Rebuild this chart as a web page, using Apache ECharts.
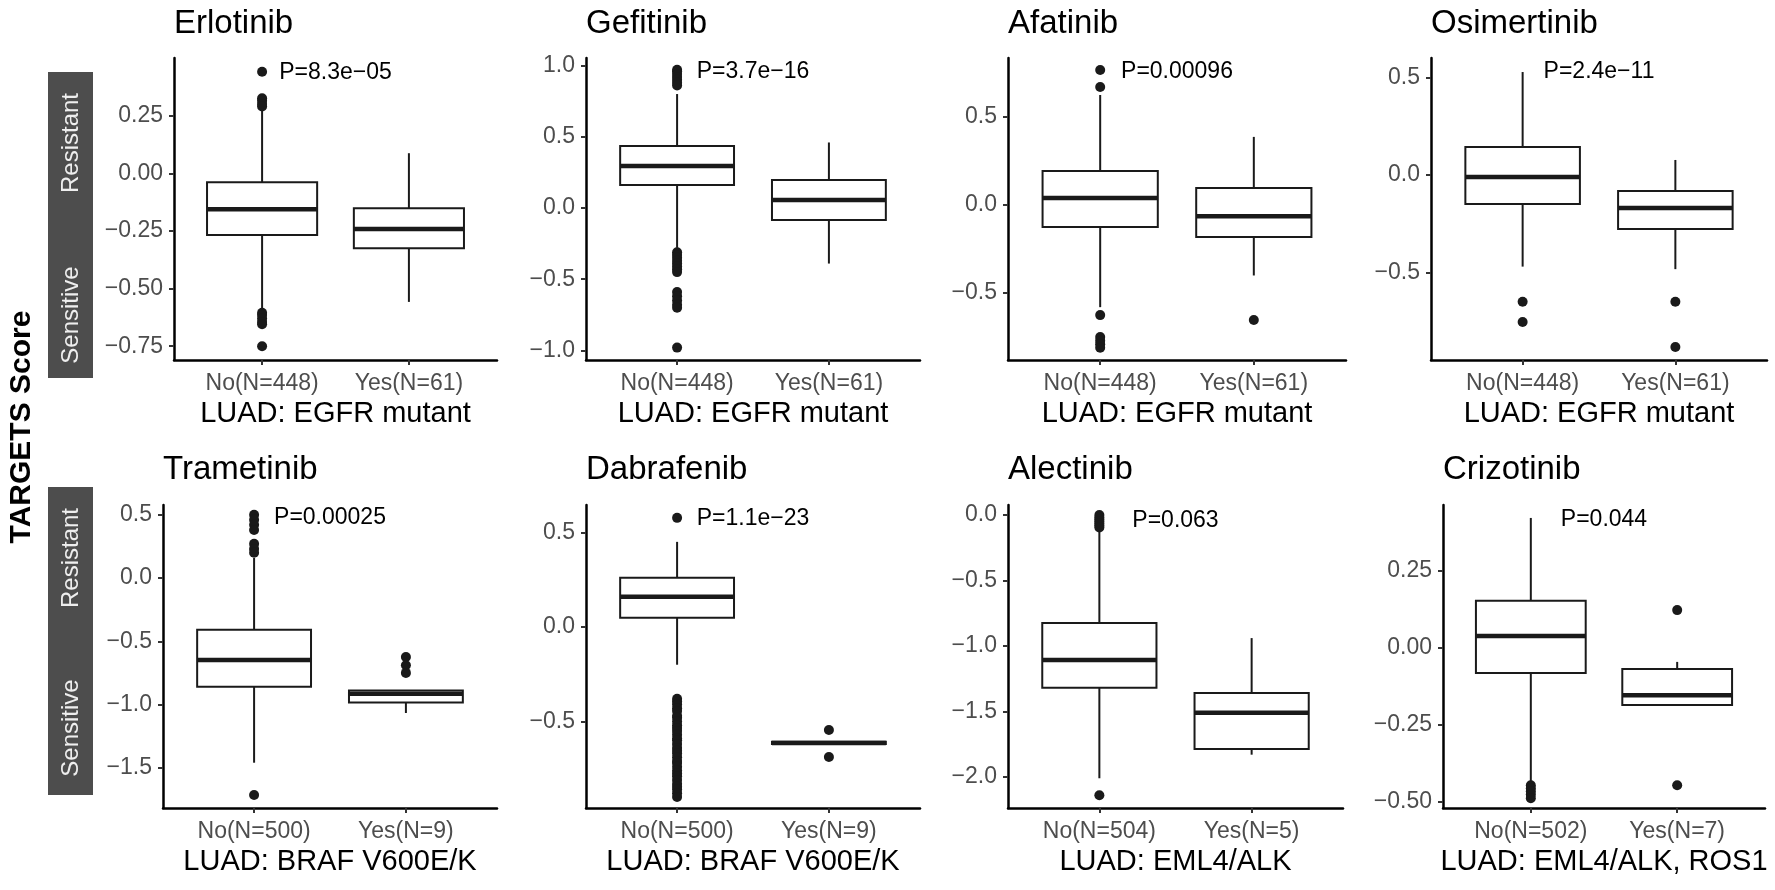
<!DOCTYPE html>
<html>
<head>
<meta charset="utf-8">
<title>TARGETS Score</title>
<script src="https://cdn.jsdelivr.net/npm/echarts@6.0.0/dist/echarts.min.js"></script>
<style>
  html, body { margin: 0; padding: 0; background: #fff; }
  #targets_chart { width: 1775px; height: 890px; }
</style>
</head>
<body>
<div id="targets_chart"></div>
<script>
  // panel order: top row left->right, then bottom row
  const drugs = ['Erlotinib', 'Gefitinib', 'Afatinib', 'Osimertinib',
    'Trametinib', 'Dabrafenib', 'Alectinib', 'Crizotinib'];
  const xTitles = ['LUAD: EGFR mutant', 'LUAD: EGFR mutant', 'LUAD: EGFR mutant', 'LUAD: EGFR mutant',
    'LUAD: BRAF V600E/K', 'LUAD: BRAF V600E/K', 'LUAD: EML4/ALK', 'LUAD: EML4/ALK, ROS1'];
  const groupLabels = [
    ['No(N=448)', 'Yes(N=61)'], ['No(N=448)', 'Yes(N=61)'], ['No(N=448)', 'Yes(N=61)'], ['No(N=448)', 'Yes(N=61)'],
    ['No(N=500)', 'Yes(N=9)'], ['No(N=500)', 'Yes(N=9)'], ['No(N=504)', 'Yes(N=5)'], ['No(N=502)', 'Yes(N=7)']
  ];
  const pLabels = ['P=8.3e\u221205', 'P=3.7e\u221216', 'P=0.00096', 'P=2.4e\u221211',
    'P=0.00025', 'P=1.1e\u221223', 'P=0.063', 'P=0.044'];
  const pLabelY = [0.437, 0.954, 0.756, 0.528, 0.48, 0.571, -0.04, 0.416];

  // [lower whisker, Q1, median, Q3, upper whisker]
  const boxNo = [
    [-0.59, -0.268, -0.156, -0.039, 0.27],
    [-0.28, 0.161, 0.295, 0.435, 0.80],
    [-0.58, -0.125, 0.04, 0.193, 0.625],
    [-0.47, -0.149, -0.01, 0.144, 0.528],
    [-1.46, -0.86, -0.648, -0.41, 0.158],
    [-0.20, 0.048, 0.159, 0.26, 0.45],
    [-2.01, -1.32, -1.107, -0.824, -0.115],
    [-0.435, -0.081, 0.039, 0.153, 0.422]
  ];
  const boxYes = [
    [-0.558, -0.325, -0.242, -0.152, 0.087],
    [-0.39, -0.084, 0.056, 0.196, 0.46],
    [-0.40, -0.182, -0.063, 0.097, 0.387],
    [-0.483, -0.277, -0.169, -0.082, 0.077],
    [-1.067, -0.985, -0.915, -0.89, -0.89],
    [-0.62, -0.62, -0.614, -0.608, -0.608],
    [-1.83, -1.786, -1.51, -1.36, -0.94],
    [-0.185, -0.185, -0.153, -0.068, -0.045]
  ];
  const outliersNo = [
    [0.44, 0.325, 0.315, 0.30, 0.29, -0.605, -0.615, -0.63, -0.645, -0.655, -0.75],
    [0.97, 0.96, 0.94, 0.92, 0.90, 0.88, 0.86, -0.31, -0.33, -0.35, -0.37, -0.39, -0.41, -0.43, -0.45,
      -0.59, -0.62, -0.65, -0.68, -0.70, -0.98],
    [0.767, 0.67, -0.625, -0.75, -0.77, -0.79, -0.81],
    [-0.65, -0.754],
    [0.50, 0.46, 0.42, 0.38, 0.27, 0.23, 0.20, -1.715],
    [0.577, -0.38, -0.395, -0.41, -0.43, -0.445, -0.47, -0.48, -0.50, -0.52, -0.535, -0.55, -0.57, -0.59,
      -0.60, -0.62, -0.64, -0.655, -0.67, -0.69, -0.71, -0.72, -0.74, -0.76, -0.775, -0.79, -0.81, -0.83,
      -0.845, -0.86, -0.88, -0.90],
    [0.0, -0.02, -0.035, -0.05, -0.065, -0.08, -0.095, -2.14],
    [-0.445, -0.455, -0.465, -0.475, -0.487]
  ];
  const outliersYes = [
    [],
    [],
    [-0.653],
    [-0.65, -0.882],
    [-0.625, -0.69, -0.75],
    [-0.545, -0.688],
    [],
    [0.123, -0.445]
  ];
  const yTicks = [
    [-0.75, -0.5, -0.25, 0, 0.25],
    [-1, -0.5, 0, 0.5, 1],
    [-0.5, 0, 0.5],
    [-0.5, 0, 0.5],
    [-1.5, -1, -0.5, 0, 0.5],
    [-0.5, 0, 0.5],
    [-2, -1.5, -1, -0.5, 0],
    [-0.5, -0.25, 0, 0.25]
  ];
  const yDigits = [2, 1, 1, 1, 1, 1, 1, 2];
  const yMin = [-0.81, -1.067, -0.88, -0.949, -1.818, -0.958, -2.237, -0.519];
  const yMax = [0.50, 1.053, 0.835, 0.60, 0.577, 0.645, 0.076, 0.464];

  // layout (pixels)
  const panelLeft = [174, 586, 1008, 1431, 163, 586, 1008, 1443];
  const panelWidth = [323, 334, 338, 336, 334, 334, 335, 322];
  const rowTop = [58, 505];
  const rowHeight = [302, 303];
  const titleTop = [7, 453];
  const font = 'Liberation Sans';
  const ink = '#1a1a1a';

  function fmtTick(v, d) {
    return v.toFixed(d).replace('-', '\u2212');
  }

  function renderBox(params, api) {
    const x = api.value(0);
    const pLo = api.coord([x, api.value(1)]);
    const pQ1 = api.coord([x, api.value(2)]);
    const pMed = api.coord([x, api.value(3)]);
    const pQ3 = api.coord([x, api.value(4)]);
    const pHi = api.coord([x, api.value(5)]);
    const left = api.coord([x - 0.375, 0])[0];
    const right = api.coord([x + 0.375, 0])[0];
    const line = {stroke: ink, lineWidth: 2};
    return {
      type: 'group',
      children: [
        {type: 'line', shape: {x1: pHi[0], y1: pHi[1], x2: pQ3[0], y2: pQ3[1]}, style: line},
        {type: 'line', shape: {x1: pQ1[0], y1: pQ1[1], x2: pLo[0], y2: pLo[1]}, style: line},
        {type: 'rect', shape: {x: left, y: pQ3[1], width: right - left, height: pQ1[1] - pQ3[1]},
          style: {fill: '#fff', stroke: ink, lineWidth: 2}},
        {type: 'line', shape: {x1: left, y1: pMed[1], x2: right, y2: pMed[1]},
          style: {stroke: ink, lineWidth: 4.5}}
      ]
    };
  }

  const grid = [], xAxis = [], yAxis = [], series = [], title = [];

  drugs.forEach(function (drug, i) {
    const row = i < 4 ? 0 : 1;
    grid.push({left: panelLeft[i], top: rowTop[row], width: panelWidth[i], height: rowHeight[row]});
    title.push({
      text: drug, left: panelLeft[i], top: titleTop[row], padding: 0,
      textStyle: {fontFamily: font, fontSize: 33, fontWeight: 'normal', color: '#000'}
    });
    xAxis.push({
      type: 'value', gridIndex: i, min: 0.4, max: 2.6,
      name: xTitles[i], nameLocation: 'middle', nameGap: 39,
      nameTextStyle: {fontFamily: font, fontSize: 29, color: '#000'},
      splitLine: {show: false},
      axisLine: {onZero: false, lineStyle: {color: '#000', width: 2.5}},
      axisTick: {customValues: [1, 2], length: 5, lineStyle: {color: '#333', width: 2}},
      axisLabel: {
        customValues: [1, 2], margin: 12,
        fontFamily: font, fontSize: 23, color: '#4d4d4d',
        formatter: function (v) { return groupLabels[i][Math.round(v) - 1]; }
      }
    });
    yAxis.push({
      type: 'value', gridIndex: i, min: yMin[i], max: yMax[i],
      splitLine: {show: false},
      axisLine: {show: true, onZero: false, lineStyle: {color: '#000', width: 2.5}},
      axisTick: {show: true, customValues: yTicks[i], length: 5, lineStyle: {color: '#333', width: 2}},
      axisLabel: {
        customValues: yTicks[i], margin: 11,
        fontFamily: font, fontSize: 23, color: '#4d4d4d',
        formatter: function (v) { return fmtTick(v, yDigits[i]); }
      }
    });
    series.push({
      type: 'custom', name: drug, xAxisIndex: i, yAxisIndex: i,
      renderItem: renderBox,
      encode: {x: 0, y: [1, 2, 3, 4, 5]},
      data: [[1].concat(boxNo[i]), [2].concat(boxYes[i])],
      silent: true, z: 2
    });
    series.push({
      type: 'scatter', xAxisIndex: i, yAxisIndex: i,
      symbolSize: 10, itemStyle: {color: ink, opacity: 1},
      data: outliersNo[i].map(function (v) { return [1, v]; })
        .concat(outliersYes[i].map(function (v) { return [2, v]; })),
      silent: true, z: 3
    });
    series.push({
      type: 'custom', xAxisIndex: i, yAxisIndex: i,
      renderItem: function (params, api) {
        const p = api.coord([api.value(0), api.value(1)]);
        return {
          type: 'text', x: p[0], y: p[1],
          style: {text: pLabels[i], fill: '#000', fontFamily: font, fontSize: 23,
            align: 'center', verticalAlign: 'middle'}
        };
      },
      data: [[1.5, pLabelY[i]]],
      silent: true, z: 4
    });
  });

  // side strips and the shared y title
  const strip = {fill: '#4d4d4d'};
  const stripText = {fill: '#eeeeee', fontFamily: font, fontSize: 24, align: 'center', verticalAlign: 'middle'};
  const graphic = [
    {type: 'rect', shape: {x: 48, y: 72, width: 45, height: 306}, style: strip},
    {type: 'rect', shape: {x: 48, y: 487, width: 45, height: 308}, style: strip},
    {type: 'text', x: 71, y: 143, rotation: Math.PI / 2, style: Object.assign({text: 'Resistant'}, stripText)},
    {type: 'text', x: 71, y: 315, rotation: Math.PI / 2, style: Object.assign({text: 'Sensitive'}, stripText)},
    {type: 'text', x: 71, y: 558, rotation: Math.PI / 2, style: Object.assign({text: 'Resistant'}, stripText)},
    {type: 'text', x: 71, y: 728, rotation: Math.PI / 2, style: Object.assign({text: 'Sensitive'}, stripText)},
    {type: 'text', x: 22, y: 427, rotation: Math.PI / 2,
      style: {text: 'TARGETS Score', fill: '#000', fontFamily: font, fontSize: 30, fontWeight: 'bold',
        align: 'center', verticalAlign: 'middle'}}
  ];

  const chart = echarts.init(document.getElementById('targets_chart'));
  chart.setOption({
    animation: false,
    backgroundColor: '#fff',
    title: title,
    grid: grid,
    xAxis: xAxis,
    yAxis: yAxis,
    series: series,
    graphic: graphic
  });
</script>
</body>
</html>
